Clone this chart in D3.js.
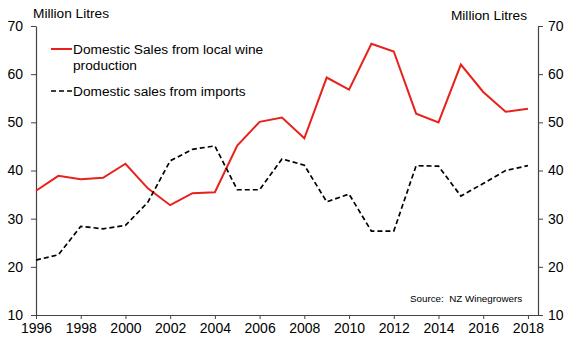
<!DOCTYPE html>
<html>
<head>
<meta charset="utf-8">
<script src="https://cdn.jsdelivr.net/npm/d3@7"></script>
<style>
  body { margin: 0; background: #fff; }
  svg text { font-family: "Liberation Sans", Arial, sans-serif; fill: #000; }
</style>
</head>
<body>
<svg id="chart" width="566" height="342"></svg>
<script>
const years = d3.range(1996, 2019);
const localSales = [35.8, 38.9, 38.2, 38.5, 41.4, 36.3, 32.8, 35.3, 35.5, 45.2, 50.1, 51.0,
    46.7, 59.3, 56.8, 66.3, 64.7, 51.8, 50.0, 62.0, 56.3, 52.2, 52.8];
const importSales = [21.4, 22.5, 28.4, 27.9, 28.6, 33.4, 42.0, 44.4, 45.1, 36.0, 36.0, 42.4,
    41.1, 33.5, 35.1, 27.4, 27.4, 41.0, 40.9, 34.7, 37.3, 40.0, 41.0];
const xTicks = d3.range(1996, 2019, 2);
const yTicks = [10, 20, 30, 40, 50, 60, 70];
const seriesNames = ["Domestic Sales from local wine", "production", "Domestic sales from imports"];

const margin = {top: 26, right: 28, bottom: 27, left: 36};
const width = 566, height = 342;

const svg = d3.select("#chart");

const x = d3.scaleLinear()
    .domain([1996, 2018.45])
    .range([margin.left, width - margin.right]);
const y = d3.scaleLinear()
    .domain([10, 70])
    .range([height - margin.bottom, margin.top]);

// axes
const axisColor = "#444";
const leftAxis = svg.append("g")
    .attr("transform", `translate(${margin.left},0)`)
    .call(d3.axisLeft(y).tickValues(yTicks).tickSize(5).tickPadding(8).tickSizeOuter(0));
const rightAxis = svg.append("g")
    .attr("transform", `translate(${width - margin.right},0)`)
    .call(d3.axisRight(y).tickValues(yTicks).tickSize(5).tickPadding(5).tickSizeOuter(0));
const bottomAxis = svg.append("g")
    .attr("transform", `translate(0,${height - margin.bottom})`)
    .call(d3.axisBottom(x).tickValues(xTicks).tickFormat(d3.format("d")).tickSize(4).tickPadding(4).tickSizeOuter(0));

[leftAxis, rightAxis, bottomAxis].forEach(g => {
    g.select(".domain").attr("stroke", axisColor).attr("stroke-width", 1.2);
    g.selectAll(".tick line").attr("stroke", axisColor);
    g.selectAll(".tick text").attr("font-size", 14).attr("fill", "#000")
        .attr("font-family", "Liberation Sans, Arial, sans-serif");
});

// axis titles
svg.append("text").attr("x", 33).attr("y", 18).attr("font-size", 13.7).text("Million Litres");
svg.append("text").attr("x", 527).attr("y", 20).attr("text-anchor", "end").attr("font-size", 13.7).text("Million Litres");

// lines
const line = d3.line().x((d, i) => x(years[i])).y(d => y(d));

svg.append("path")
    .datum(localSales)
    .attr("fill", "none")
    .attr("stroke", "#e8211b")
    .attr("stroke-width", 2)
    .attr("d", line);

svg.append("path")
    .datum(importSales)
    .attr("fill", "none")
    .attr("stroke", "#000")
    .attr("stroke-width", 1.7)
    .attr("stroke-dasharray", "5,3")
    .attr("d", line);

// legend
const legend = svg.append("g");
legend.append("line").attr("x1", 51).attr("x2", 72).attr("y1", 49).attr("y2", 49)
    .attr("stroke", "#e8211b").attr("stroke-width", 2);
legend.append("text").attr("x", 73).attr("y", 53.5).attr("font-size", 13.7).text(seriesNames[0]);
legend.append("text").attr("x", 73).attr("y", 69.5).attr("font-size", 13.7).text(seriesNames[1]);
legend.append("line").attr("x1", 51).attr("x2", 72).attr("y1", 91).attr("y2", 91)
    .attr("stroke", "#000").attr("stroke-width", 1.7).attr("stroke-dasharray", "5,3");
legend.append("text").attr("x", 73).attr("y", 95.5).attr("font-size", 13.7).text(seriesNames[2]);

// source
svg.append("text").attr("x", 410).attr("y", 302).attr("font-size", 9.8)
    .attr("xml:space", "preserve").text("Source:  NZ Winegrowers");
</script>
</body>
</html>
